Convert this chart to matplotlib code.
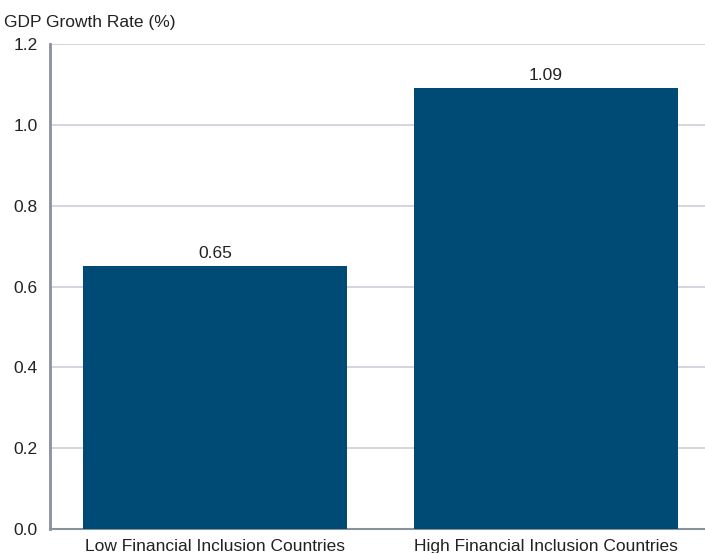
import matplotlib.pyplot as plt

# data
categories = ['Low Financial Inclusion Countries', 'High Financial Inclusion Countries']
growth = [0.65, 1.09]
value_labels = ['0.65', '1.09']
yticks = [0.0, 0.2, 0.4, 0.6, 0.8, 1.0, 1.2]

plt.rcParams['font.family'] = ['Liberation Sans', 'DejaVu Sans']

fig = plt.figure(figsize=(7.05, 5.53), dpi=100)
fig.set_facecolor('white')
# axes run a little past the right edge, like the cropped original
ax = fig.add_axes([0.0709, 0.0434, 0.9376, 0.877])

bars = ax.bar(range(len(categories)), growth, width=0.8, color='#004b75', zorder=3)
for bar, lab in zip(bars, value_labels):
    ax.annotate(lab, (bar.get_x() + bar.get_width() / 2, bar.get_height()),
                xytext=(0, 4), textcoords='offset points',
                ha='center', va='bottom', fontsize=12.5, color='#222222')

ax.set_xlim(-0.5, 1.5)
ax.set_ylim(0, 1.2)
ax.set_yticks(yticks)
ax.set_yticklabels([f'{t:.1f}' for t in yticks])
ax.set_xticks(range(len(categories)))
ax.set_xticklabels(categories)

ax.grid(axis='y', color='#d0d3da', linewidth=1.3, zorder=0)
ax.spines['top'].set_visible(False)
ax.spines['right'].set_visible(False)
ax.spines['left'].set_color('#8a919a')
ax.spines['left'].set_linewidth(2)
ax.spines['bottom'].set_color('#8a919a')
ax.spines['bottom'].set_linewidth(1.5)
ax.tick_params(axis='y', length=0, pad=9, labelsize=12.5, labelcolor='#222222')
ax.tick_params(axis='x', length=0, pad=7, labelsize=12.5, labelcolor='#222222')

fig.text(0.006, 0.96, 'GDP Growth Rate (%)', fontsize=12.5, color='#222222',
         ha='left', va='center')

fig.savefig('out.png', dpi=100)
